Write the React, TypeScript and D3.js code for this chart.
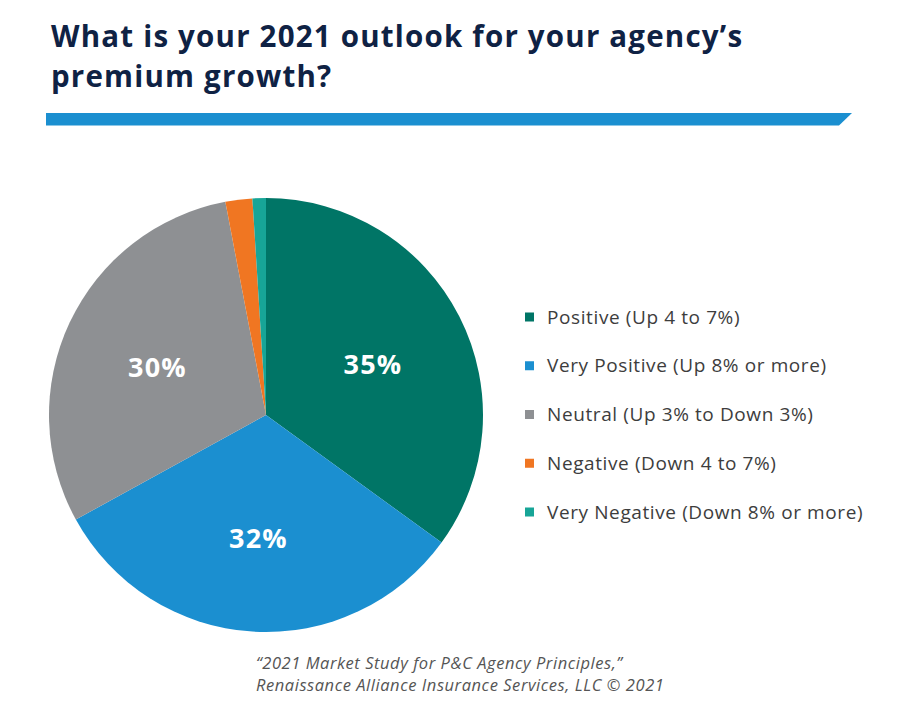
import React from "react";
import * as d3 from "d3";

const categories = [
  "Positive (Up 4 to 7%)",
  "Very Positive (Up 8% or more)",
  "Neutral (Up 3% to Down 3%)",
  "Negative (Down 4 to 7%)",
  "Very Negative (Down 8% or more)",
];
const values = [35, 32, 30, 2, 1];
const sliceLabels = ["35%", "32%", "30%", "", ""];
const colors = ["#007566", "#1b8fd0", "#8e9093", "#f07622", "#17a597"];
const titleLines = ["What is your 2021 outlook for your agency\u2019s", "premium growth?"];
const sourceLines = [
  "\u201C2021 Market Study for P&C Agency Principles,\u201D",
  "Renaissance Alliance Insurance Services, LLC \u00A9 2021",
];

const W = 920;
const H = 719;

export default function App() {
  const cx = 266;
  const cy = 415;
  const r = 217;
  const pie = d3.pie<number>().sort(null).value((d) => d);
  const arcs = pie(values);
  const arc = d3.arc<d3.PieArcDatum<number>>().innerRadius(0).outerRadius(r);
  const labelArc = d3.arc<d3.PieArcDatum<number>>().innerRadius(120).outerRadius(120);

  const legendY = d3.scalePoint<string>().domain(categories).range([317, 512]);

  const barPath = d3.path();
  barPath.moveTo(46, 113);
  barPath.lineTo(852, 113);
  barPath.lineTo(839, 125.5);
  barPath.lineTo(46, 125.5);
  barPath.closePath();

  return (
    <svg
      width={W}
      height={H}
      style={{ position: "absolute", left: 0, top: 0, background: "#fff" }}
    >
      <g fontFamily="'Open Sans', sans-serif">
        {titleLines.map((t, i) => (
          <text
            key={i}
            x={51}
            y={46.5 + i * 40.5}
            fontSize={29.5}
            fontWeight={700}
            letterSpacing={1.2}
            fill="#0f2244"
          >
            {t}
          </text>
        ))}
        <path d={barPath.toString()} fill="#1b8fd0" />
        <g transform={`translate(${cx},${cy})`}>
          {arcs.map((a, i) => (
            <path key={i} d={arc(a) || ""} fill={colors[i]} />
          ))}
          {arcs.map((a, i) => {
            const [x, y] = labelArc.centroid(a);
            return sliceLabels[i] ? (
              <text
                key={"l" + i}
                x={x}
                y={y}
                dy="0.5em"
                textAnchor="middle"
                fontSize={27}
                fontWeight={700}
                letterSpacing={1.2}
                fill="#fff"
              >
                {sliceLabels[i]}
              </text>
            ) : null;
          })}
        </g>
        {categories.map((c, i) => (
          <g key={c} transform={`translate(0,${legendY(c)})`}>
            <rect x={525} y={-4.5} width={9} height={9} fill={colors[i]} />
            <text
              x={547}
              y={0}
              dy="0.35em"
              fontSize={19}
              letterSpacing={0.6}
              fill="#3d3d3d"
            >
              {c}
            </text>
          </g>
        ))}
        {sourceLines.map((t, i) => (
          <text
            key={t}
            x={256}
            y={669 + i * 22}
            fontSize={16.5}
            fontStyle="italic"
            letterSpacing={0.55}
            fill="#555"
          >
            {t}
          </text>
        ))}
      </g>
    </svg>
  );
}
